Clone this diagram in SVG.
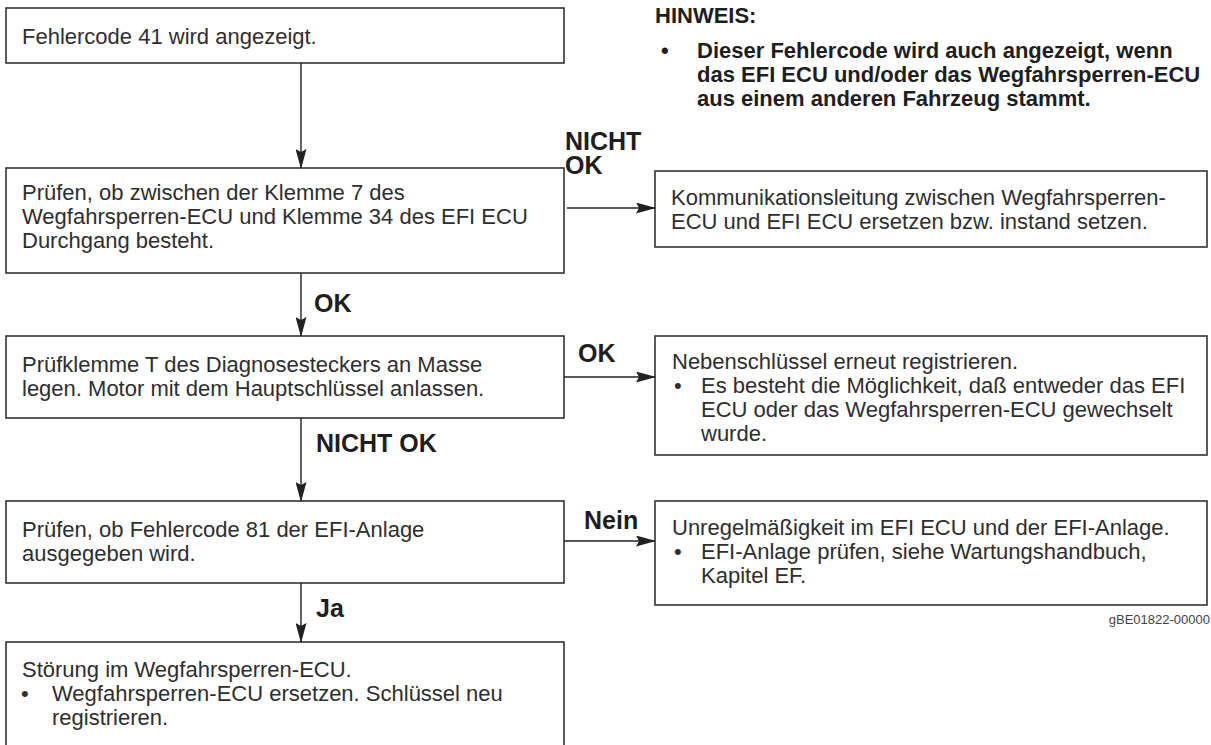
<svg xmlns="http://www.w3.org/2000/svg" width="1211" height="745" viewBox="0 0 1211 745">
  <defs>
    <style>
      .box { fill: #ffffff; stroke: #333333; stroke-width: 1.6; }
      .txt { font-family: "Liberation Sans", Arial, sans-serif; font-size: 22px; fill: #2e2e2e; }
      .lbl { font-family: "Liberation Sans", Arial, sans-serif; font-size: 25px; font-weight: bold; fill: #1e1e1e; }
      .note { font-family: "Liberation Sans", Arial, sans-serif; font-size: 22px; font-weight: bold; fill: #1e1e1e; }
      .code { font-family: "Liberation Sans", Arial, sans-serif; font-size: 13px; fill: #444444; }
      .conn { fill: none; stroke: #222222; stroke-width: 1.4; marker-end: url(#arrow); }
    </style>
    <marker id="arrow" viewBox="0 0 20 11" refX="19" refY="5.5" markerWidth="20" markerHeight="11" markerUnits="userSpaceOnUse" orient="auto">
      <path d="M0,0 L20,5.5 L0,11 L3,5.5 z" fill="#222222"/>
    </marker>
  </defs>

  <rect width="1211" height="745" fill="#ffffff"/>

  <!-- note in the top right corner -->
  <g id="note">
    <text class="note" x="655" y="23">HINWEIS:</text>
    <text class="note" x="661" y="58">•</text>
    <text class="note" x="697" y="58">Dieser Fehlercode wird auch angezeigt, wenn</text>
    <text class="note" x="697" y="82">das EFI ECU und/oder das Wegfahrsperren-ECU</text>
    <text class="note" x="697" y="106">aus einem anderen Fahrzeug stammt.</text>
  </g>

  <!-- main column -->
  <g id="start">
    <rect class="box" x="6" y="8" width="558" height="55"/>
    <text class="txt" x="22" y="44">Fehlercode 41 wird angezeigt.</text>
  </g>

  <g id="check-continuity">
    <rect class="box" x="6" y="168" width="558" height="105"/>
    <text class="txt" x="22" y="200">Prüfen, ob zwischen der Klemme 7 des</text>
    <text class="txt" x="22" y="224">Wegfahrsperren-ECU und Klemme 34 des EFI ECU</text>
    <text class="txt" x="22" y="248">Durchgang besteht.</text>
  </g>

  <g id="ground-terminal">
    <rect class="box" x="6" y="336" width="558" height="82"/>
    <text class="txt" x="22" y="372">Prüfklemme T des Diagnosesteckers an Masse</text>
    <text class="txt" x="22" y="396">legen. Motor mit dem Hauptschlüssel anlassen.</text>
  </g>

  <g id="check-code-81">
    <rect class="box" x="6" y="501" width="558" height="82"/>
    <text class="txt" x="22" y="537">Prüfen, ob Fehlercode 81 der EFI-Anlage</text>
    <text class="txt" x="22" y="561">ausgegeben wird.</text>
  </g>

  <g id="immobiliser-fault">
    <rect class="box" x="6" y="642" width="558" height="120"/>
    <text class="txt" x="22" y="677">Störung im Wegfahrsperren-ECU.</text>
    <text class="txt" x="21" y="701">•</text>
    <text class="txt" x="52" y="701">Wegfahrsperren-ECU ersetzen. Schlüssel neu</text>
    <text class="txt" x="52" y="725">registrieren.</text>
  </g>

  <!-- right column -->
  <g id="repair-line">
    <rect class="box" x="655" y="171" width="552" height="76"/>
    <text class="txt" x="671" y="205">Kommunikationsleitung zwischen Wegfahrsperren-</text>
    <text class="txt" x="671" y="229">ECU und EFI ECU ersetzen bzw. instand setzen.</text>
  </g>

  <g id="register-subkey">
    <rect class="box" x="655" y="336" width="552" height="119"/>
    <text class="txt" x="672" y="369">Nebenschlüssel erneut registrieren.</text>
    <text class="txt" x="674" y="393">•</text>
    <text class="txt" x="701" y="393">Es besteht die Möglichkeit, daß entweder das EFI</text>
    <text class="txt" x="701" y="417">ECU oder das Wegfahrsperren-ECU gewechselt</text>
    <text class="txt" x="701" y="441">wurde.</text>
  </g>

  <g id="efi-fault">
    <rect class="box" x="655" y="501" width="552" height="104"/>
    <text class="txt" x="672" y="535">Unregelmäßigkeit im EFI ECU und der EFI-Anlage.</text>
    <text class="txt" x="674" y="559">•</text>
    <text class="txt" x="701" y="559">EFI-Anlage prüfen, siehe Wartungshandbuch,</text>
    <text class="txt" x="701" y="583">Kapitel EF.</text>
  </g>

  <text class="code" x="1210" y="624" text-anchor="end">gBE01822-00000</text>

  <!-- connectors with their branch labels -->
  <g id="connectors">
    <line class="conn" x1="301" y1="63" x2="301" y2="168"/>
    <line class="conn" x1="567" y1="208" x2="655" y2="208"/>
    <line class="conn" x1="301" y1="273" x2="301" y2="336"/>
    <line class="conn" x1="564" y1="377" x2="655" y2="377"/>
    <line class="conn" x1="301" y1="418" x2="301" y2="501"/>
    <line class="conn" x1="564" y1="541" x2="655" y2="541"/>
    <line class="conn" x1="301" y1="583" x2="301" y2="642"/>

    <text class="lbl"><tspan x="565" y="150">NICHT</tspan><tspan x="565" y="174">OK</tspan></text>
    <text class="lbl" x="314" y="312">OK</text>
    <text class="lbl" x="578" y="362">OK</text>
    <text class="lbl" x="316" y="452">NICHT OK</text>
    <text class="lbl" x="584" y="529">Nein</text>
    <text class="lbl" x="316" y="617">Ja</text>
  </g>
</svg>
